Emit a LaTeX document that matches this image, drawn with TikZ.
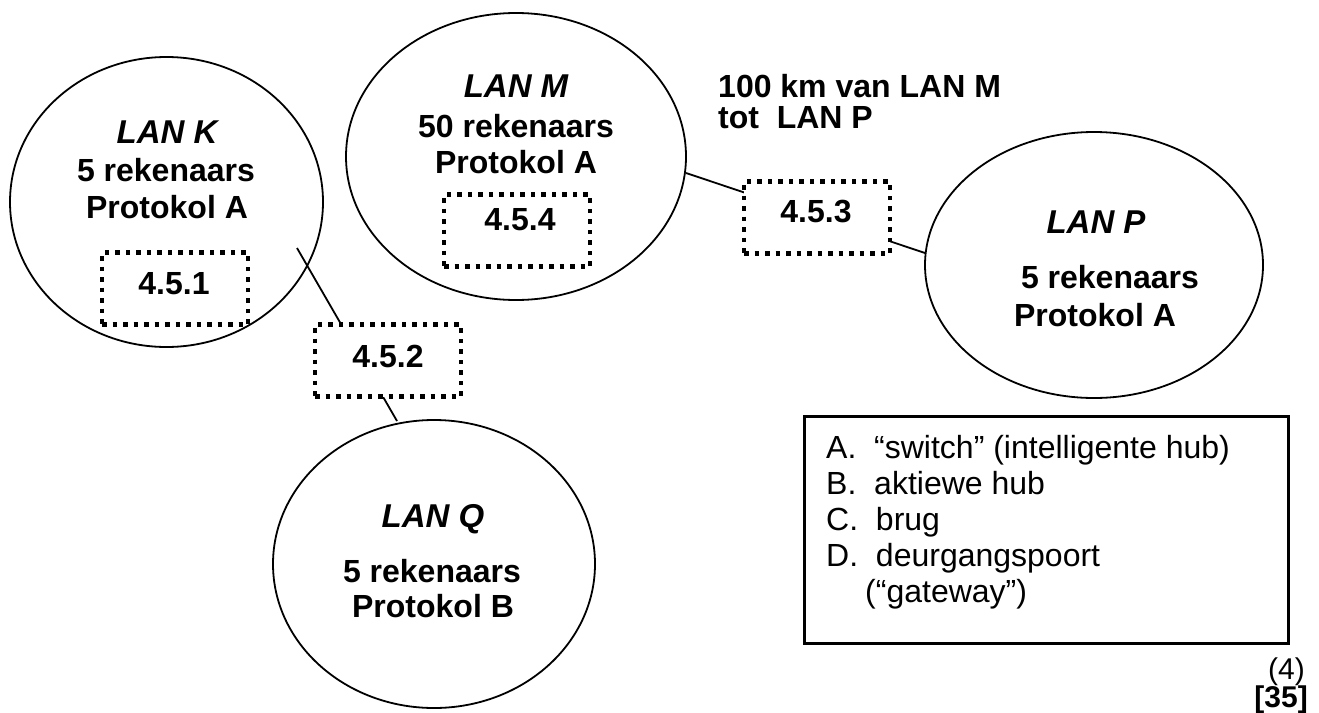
\documentclass[tikz,border=0pt]{standalone}
\usepackage{fontspec}
\setmainfont{Liberation Sans}
\usetikzlibrary{shapes.geometric}
\begin{document}
\begin{tikzpicture}[x=1pt,y=-1pt,
  lan/.style={draw, ellipse, line width=1.8pt, inner sep=0pt},
  ttl/.style={anchor=base, inner sep=0pt, font=\fontsize{33}{39}\selectfont\bfseries\itshape},
  txt/.style={anchor=base, inner sep=0pt, font=\fontsize{32}{38}\selectfont\bfseries},
  dbox/.style={draw, fill=white, line width=4.5pt, dash pattern=on 4.5pt off 6pt,
    minimum width=146pt, minimum height=72pt, inner sep=0pt},
  wire/.style={line width=1.8pt},
  leg/.style={anchor=base west, inner sep=0pt, font=\fontsize{32}{38}\selectfont}
]
\useasboundingbox (0,0) rectangle (1319,712);
\fill[white] (0,0) rectangle (1319,712);

% LANs
\node[lan, minimum width=313pt, minimum height=290pt] (K) at (166.5,202) {};
\node[lan, minimum width=340pt, minimum height=287pt] (M) at (516,156.5) {};
\node[lan, minimum width=338pt, minimum height=266pt] (P) at (1094,265) {};
\node[lan, minimum width=322pt, minimum height=288pt] (Q) at (434,564) {};

% connector end points
\coordinate (k1) at (297,248);
\coordinate (q1) at (397,421);
\coordinate (m1) at (686,173);
\coordinate (p1) at (925,253);
\draw[wire] (k1) -- (q1);
\draw[wire] (m1) -- (p1);

% dotted boxes
\node[dbox] (b451) at (175,288.5) {};
\node[dbox] (b452) at (388,360.5) {};
\node[dbox] (b453) at (817,217.5) {};
\node[dbox] (b454) at (517,230.5) {};
\node[txt] (t451) at (174,294) {4.5.1};
\node[txt] (t452) at (388,367) {4.5.2};
\node[txt] (t453) at (816,222) {4.5.3};
\node[txt] (t454) at (520,230) {4.5.4};

% LAN texts
\node[ttl] (kt) at (167,143) {LAN K};
\node[txt] (k2) at (166,181) {5 rekenaars};
\node[txt] (k3) at (167,218) {Protokol A};

\node[ttl] (mt) at (516,97) {LAN M};
\node[txt] (m2) at (516,137) {50 rekenaars};
\node[txt] (m3) at (516,173) {Protokol A};

\node[ttl] (pt) at (1096,233) {LAN P};
\node[txt] (p2) at (1110,288) {5 rekenaars};
\node[txt] (p3) at (1095,326) {Protokol A};

\node[ttl] (qt) at (433,527) {LAN Q};
\node[txt] (q2) at (432,582) {5 rekenaars};
\node[txt] (q3) at (433,617) {Protokol B};

\node[txt, anchor=base west] (d1) at (718,97) {100 km van LAN M};
\node[txt, anchor=base west] (d2) at (718,128) {tot\ \ LAN P};

% legend
\node[draw, line width=3pt, minimum width=484pt, minimum height=227pt, inner sep=0pt] (legend) at (1046.5,530) {};
\node[leg] (la) at (826,458) {A.\ \ “switch” (intelligente hub)};
\node[leg] (lb) at (826,494) {B.\ \ aktiewe hub};
\node[leg] (lc) at (826,530) {C.\ \ brug};
\node[leg] (ld) at (826,566) {D.\ \ deurgangspoort};
\node[leg] (le) at (865,602) {(“gateway”)};

\node[anchor=base east, inner sep=0pt, font=\fontsize{30}{36}\selectfont] (mk) at (1305,679) {(4)};
\node[anchor=base east, inner sep=0pt, font=\fontsize{30}{36}\selectfont\bfseries] (tot) at (1308,707) {[35]};
\end{tikzpicture}
\end{document}
